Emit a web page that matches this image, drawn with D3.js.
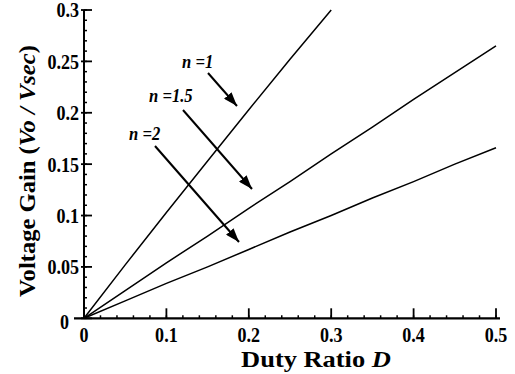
<!DOCTYPE html>
<html><head><meta charset="utf-8">
<script src="https://cdn.jsdelivr.net/npm/d3@7"></script>
<style>
body{margin:0;background:#fff;}
svg{display:block;font-family:"Liberation Serif","Times New Roman",serif;}
</style></head>
<body><svg id="c" width="515" height="374"></svg>
<script>
const xTicks = [0, 0.1, 0.2, 0.3, 0.4, 0.5];
const xTickLabels = ["0", "0.1", "0.2", "0.3", "0.4", "0.5"];
const yTicks = [0, 0.05, 0.1, 0.15, 0.2, 0.25, 0.3];
const yTickLabels = ["0", "0.05", "0.1", "0.15", "0.2", "0.25", "0.3"];
const dutyA = [0, 0.05, 0.1, 0.15, 0.2, 0.25, 0.3];
const gainN1 = [0, 0.052, 0.103, 0.153, 0.203, 0.252, 0.3];
const dutyB = [0, 0.05, 0.1, 0.15, 0.2, 0.25, 0.3, 0.35, 0.4, 0.45, 0.5];
const gainN15 = [0, 0.027, 0.054, 0.080, 0.107, 0.133, 0.160, 0.186, 0.213, 0.239, 0.265];
const gainN2 = [0, 0.017, 0.034, 0.050, 0.067, 0.084, 0.100, 0.117, 0.133, 0.150, 0.166];
const labels = ["n =1", "n =1.5", "n =2"];

const svg = d3.select("#c");
const x = d3.scaleLinear().domain([0, 0.5]).range([84, 496]);
const y = d3.scaleLinear().domain([0, 0.3]).range([318.3, 10]);

// axes lines
const g = svg.append("g").attr("stroke", "#000");
g.append("line").attr("x1", 74).attr("x2", 500).attr("y1", y(0)).attr("y2", y(0)).attr("stroke-width", 2.2);
g.append("line").attr("x1", x(0)).attr("x2", x(0)).attr("y1", y(0.3)).attr("y2", y(0)).attr("stroke-width", 2);

// y ticks
const yMinor = d3.range(0, 0.3001, 0.01);
g.selectAll(".ym").data(yMinor).join("line")
  .attr("x1", x(0)).attr("x2", x(0) + 3).attr("y1", d => y(d)).attr("y2", d => y(d)).attr("stroke-width", 1.5);
g.selectAll(".yM").data(yTicks).join("line")
  .attr("x1", x(0) - 3).attr("x2", x(0) + 8).attr("y1", d => y(d)).attr("y2", d => y(d)).attr("stroke-width", 1.8);
// x ticks
const xMinor = d3.range(0, 0.5001, 0.02);
g.selectAll(".xm").data(xMinor).join("line")
  .attr("x1", d => x(d)).attr("x2", d => x(d)).attr("y1", y(0)).attr("y2", y(0) - 3).attr("stroke-width", 1.5);
g.selectAll(".xM").data(xTicks).join("line")
  .attr("x1", d => x(d)).attr("x2", d => x(d)).attr("y1", y(0)).attr("y2", y(0) - 10).attr("stroke-width", 1.8);

// tick labels
svg.append("g").selectAll("text").data(yTicks).join("text")
  .attr("transform", d => d === 0 ? `translate(69,${y(d) + 3}) scale(0.86,1)` : `translate(79,${y(d)}) scale(0.86,1)`)
  .attr("dy", "0.35em")
  .attr("text-anchor", "end").attr("font-size", 21).attr("font-weight", "bold")
  .text((d, i) => yTickLabels[i]);
svg.append("g").selectAll("text").data(xTicks).join("text")
  .attr("transform", d => `translate(${x(d)},342) scale(0.86,1)`)
  .attr("text-anchor", "middle").attr("font-size", 21).attr("font-weight", "bold")
  .text((d, i) => xTickLabels[i]);

// axis titles
const xt = svg.append("text").attr("transform", "translate(316,367) scale(1.15,1)").attr("text-anchor", "middle")
  .attr("font-size", 23).attr("font-weight", "bold");
xt.append("tspan").text("Duty Ratio ");
xt.append("tspan").attr("font-style", "italic").text("D");

const yt = svg.append("text").attr("transform", "translate(35,171) rotate(-90) scale(1.07,1)")
  .attr("text-anchor", "middle").attr("font-size", 23).attr("font-weight", "bold");
yt.append("tspan").text("Voltage Gain (");
yt.append("tspan").attr("font-style", "italic").text("Vo / Vsec");
yt.append("tspan").text(")");

// curves
const line = d3.line().x(d => x(d[0])).y(d => y(d[1]));
const series = [
  dutyA.map((d, i) => [d, gainN1[i]]),
  dutyB.map((d, i) => [d, gainN15[i]]),
  dutyB.map((d, i) => [d, gainN2[i]])
];
svg.append("g").selectAll("path").data(series).join("path")
  .attr("d", line).attr("fill", "none").attr("stroke", "#000").attr("stroke-width", 1.5);

// annotations
svg.append("defs").append("marker").attr("id", "ah")
  .attr("viewBox", "0 0 14 10").attr("refX", 14).attr("refY", 5)
  .attr("markerWidth", 14).attr("markerHeight", 10).attr("markerUnits", "userSpaceOnUse")
  .attr("orient", "auto")
  .append("path").attr("d", "M0,0 L14,5 L0,10 Z").attr("fill", "#000");

const ann = [
  {tx: 182, ty: 68, x1: 208, y1: 73, x2: 237, y2: 106},
  {tx: 149, ty: 102, x1: 183, y1: 110, x2: 252, y2: 189},
  {tx: 129, ty: 140, x1: 155, y1: 146, x2: 239, y2: 242}
];
svg.append("g").selectAll("text").data(ann).join("text")
  .attr("transform", d => `translate(${d.tx},${d.ty}) scale(0.9,1)`)
  .attr("font-size", 18.5).attr("font-weight", "bold").attr("font-style", "italic")
  .text((d, i) => labels[i]);
svg.append("g").selectAll("line").data(ann).join("line")
  .attr("x1", d => d.x1).attr("y1", d => d.y1).attr("x2", d => d.x2).attr("y2", d => d.y2)
  .attr("stroke", "#000").attr("stroke-width", 2).attr("marker-end", "url(#ah)");
</script></body></html>
